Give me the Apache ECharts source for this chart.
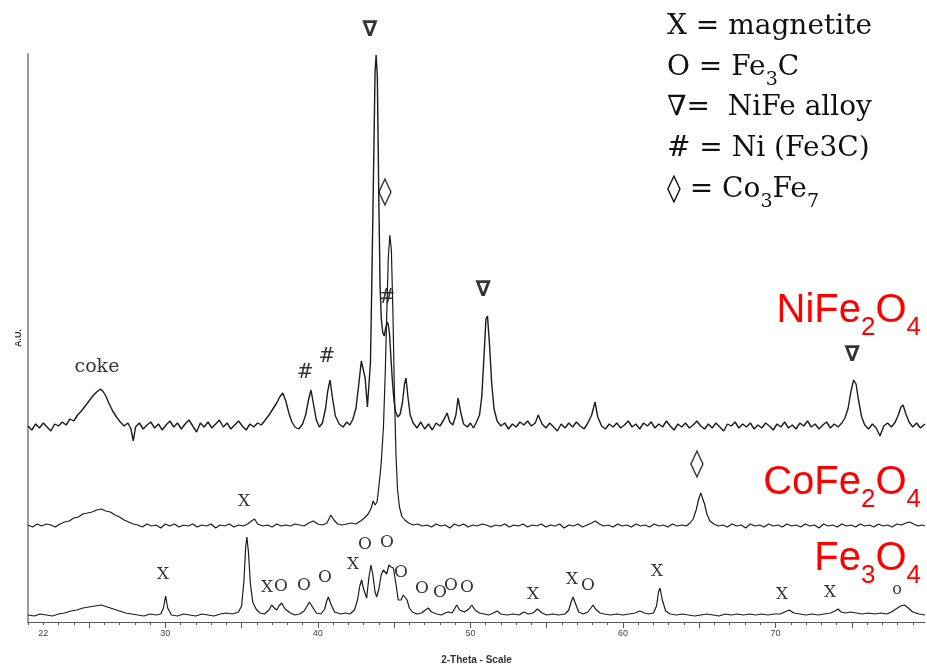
<!DOCTYPE html>
<html><head><meta charset="utf-8">
<script src="https://cdn.jsdelivr.net/npm/echarts@6/dist/echarts.min.js"></script>
<style>html,body{margin:0;padding:0;background:#fff}#c{width:927px;height:668px}</style>
</head><body><div id="c"></div>
<script>
// 2-theta (deg) and relative intensity (A.U., traces stacked with offsets as in the figure)
const niFe2O4 = [
[21.0,196],[21.25,192],[21.5,198],[21.75,194],[22.0,199],[22.25,195],[22.5,191],[22.75,198],[23.0,196],[23.25,200],[23.5,197],[23.75,203],[24.0,201],[24.25,207],[24.5,211],[24.75,216],[25.0,221],[25.25,226],[25.5,230],[25.75,233],[25.9,231],[26.1,226],[26.3,219],[26.55,211],[26.8,205],[27.05,200],[27.3,196],[27.55,199],[27.75,193],[27.9,181],[28.05,195],[28.3,199],[28.55,193],[28.8,197],[29.05,200],[29.3,194],[29.55,198],[29.8,192],[30.05,197],[30.3,201],[30.55,195],[30.8,199],[31.05,193],[31.3,198],[31.55,202],[31.8,196],[32.05,190],[32.3,199],[32.55,195],[32.8,200],[33.05,194],[33.3,198],[33.55,202],[33.8,195],[34.05,199],[34.3,193],[34.55,197],[34.8,201],[35.05,196],[35.3,192],[35.55,198],[35.8,195],[36.05,199],[36.3,197],[36.55,202],[36.8,207],[37.05,213],[37.3,219],[37.5,225],[37.7,229],[37.9,221],[38.1,209],[38.3,200],[38.5,195],[38.75,193],[39.0,198],[39.2,207],[39.4,223],[39.55,232],[39.7,219],[39.9,202],[40.1,195],[40.3,199],[40.5,213],[40.65,231],[40.8,242],[40.95,225],[41.15,206],[41.4,198],[41.65,195],[41.9,200],[42.1,197],[42.3,203],[42.5,214],[42.7,240],[42.85,261],[42.95,263],[43.1,244],[43.25,215],[43.35,213],[43.45,260],[43.55,350],[43.65,450],[43.75,550],[43.82,567],[43.9,545],[44.0,420],[44.08,335],[44.16,303],[44.25,290],[44.35,286],[44.45,294],[44.55,300],[44.62,297],[44.7,288],[44.8,262],[44.9,238],[45.0,220],[45.1,210],[45.25,205],[45.4,208],[45.55,220],[45.68,238],[45.78,244],[45.9,226],[46.05,207],[46.25,199],[46.5,194],[46.75,200],[47.0,193],[47.25,198],[47.5,192],[47.75,199],[48.0,196],[48.25,202],[48.47,209],[48.65,200],[48.85,197],[49.05,207],[49.19,224],[49.35,211],[49.55,198],[49.8,195],[50.0,199],[50.2,194],[50.4,200],[50.6,207],[50.75,226],[50.9,268],[51.02,303],[51.12,306],[51.25,278],[51.4,238],[51.55,213],[51.75,201],[52.0,196],[52.25,199],[52.5,193],[52.75,198],[53.0,195],[53.25,200],[53.5,197],[53.75,201],[54.0,196],[54.25,199],[54.45,207],[54.7,198],[54.95,194],[55.2,199],[55.45,195],[55.7,191],[55.95,198],[56.2,194],[56.45,199],[56.7,195],[56.95,200],[57.2,196],[57.45,193],[57.7,199],[57.95,207],[58.17,220],[58.35,205],[58.6,196],[58.85,193],[59.1,198],[59.35,195],[59.6,199],[59.85,194],[60.1,197],[60.35,201],[60.6,195],[60.85,198],[61.1,193],[61.35,199],[61.6,196],[61.85,200],[62.1,194],[62.35,198],[62.6,195],[62.85,201],[63.1,196],[63.35,192],[63.6,198],[63.85,195],[64.1,199],[64.35,194],[64.6,197],[64.85,201],[65.1,196],[65.35,193],[65.6,198],[65.85,194],[66.1,199],[66.35,195],[66.6,191],[66.85,198],[67.1,196],[67.35,200],[67.6,194],[67.85,198],[68.1,195],[68.35,199],[68.6,193],[68.85,197],[69.1,194],[69.35,199],[69.6,196],[69.85,192],[70.1,198],[70.35,195],[70.6,200],[70.85,194],[71.1,197],[71.35,193],[71.6,199],[71.85,196],[72.1,201],[72.35,195],[72.6,198],[72.85,193],[73.1,197],[73.35,200],[73.6,194],[73.85,198],[74.1,195],[74.35,199],[74.55,204],[74.75,213],[74.95,231],[75.12,242],[75.28,238],[75.45,221],[75.65,205],[75.85,197],[76.1,193],[76.35,198],[76.6,194],[76.85,186],[77.1,196],[77.35,199],[77.6,195],[77.85,200],[78.05,207],[78.22,215],[78.36,217],[78.55,208],[78.75,200],[79.0,195],[79.25,199],[79.5,194],[79.8,198]
];
const coFe2O4 = [
[21.0,97],[21.3,95],[21.6,98],[21.9,96],[22.2,98],[22.5,97],[22.8,95],[23.1,98],[23.4,100],[23.7,101],[24.0,104],[24.3,105],[24.6,108],[24.9,109],[25.2,110],[25.5,112],[25.8,113],[26.1,111],[26.4,110],[26.7,107],[27.0,105],[27.3,102],[27.6,100],[27.9,98],[28.2,97],[28.5,95],[28.8,98],[29.1,96],[29.4,97],[29.7,94],[30.0,98],[30.3,96],[30.6,98],[30.9,95],[31.2,97],[31.5,96],[31.8,98],[32.1,95],[32.4,97],[32.7,96],[33.0,98],[33.3,94],[33.6,97],[33.9,96],[34.2,98],[34.5,95],[34.8,97],[35.1,96],[35.4,98],[35.65,101],[35.85,103],[36.05,98],[36.4,96],[36.7,97],[37.0,95],[37.3,98],[37.6,96],[37.9,97],[38.2,96],[38.5,98],[38.8,97],[39.1,96],[39.4,99],[39.7,101],[40.0,98],[40.3,97],[40.6,99],[40.85,107],[41.05,102],[41.3,98],[41.6,97],[41.9,98],[42.2,99],[42.5,98],[42.8,101],[43.05,104],[43.3,108],[43.5,114],[43.62,121],[43.75,117],[43.88,120],[44.0,135],[44.15,158],[44.3,195],[44.42,250],[44.52,310],[44.62,365],[44.72,387],[44.82,372],[44.92,310],[45.02,230],[45.12,168],[45.22,133],[45.35,115],[45.5,106],[45.7,102],[45.95,99],[46.25,97],[46.55,98],[46.85,96],[47.15,97],[47.45,95],[47.75,98],[48.05,96],[48.35,97],[48.65,94],[48.95,98],[49.25,96],[49.55,98],[49.85,95],[50.15,97],[50.45,96],[50.75,98],[51.05,97],[51.35,95],[51.65,97],[51.95,96],[52.25,98],[52.55,95],[52.85,97],[53.15,96],[53.45,98],[53.75,95],[54.05,97],[54.35,96],[54.65,98],[54.95,95],[55.25,97],[55.55,96],[55.85,98],[56.15,94],[56.45,97],[56.75,96],[57.05,98],[57.35,95],[57.65,97],[57.95,99],[58.2,101],[58.45,98],[58.75,96],[59.05,97],[59.35,95],[59.65,98],[59.95,96],[60.25,97],[60.55,95],[60.85,98],[61.15,96],[61.45,97],[61.75,95],[62.05,98],[62.35,96],[62.65,97],[62.95,95],[63.25,98],[63.55,96],[63.85,97],[64.15,96],[64.4,99],[64.6,103],[64.8,112],[64.95,122],[65.1,129],[65.22,127],[65.35,118],[65.5,108],[65.7,101],[65.95,98],[66.25,96],[66.55,97],[66.85,95],[67.15,98],[67.45,96],[67.75,97],[68.05,94],[68.35,98],[68.65,96],[68.95,97],[69.25,95],[69.55,98],[69.85,96],[70.15,97],[70.45,95],[70.75,98],[71.05,96],[71.35,97],[71.65,95],[71.95,98],[72.25,96],[72.55,97],[72.85,94],[73.15,98],[73.45,96],[73.75,97],[74.05,95],[74.35,98],[74.65,96],[74.95,97],[75.25,95],[75.55,98],[75.85,96],[76.15,97],[76.45,95],[76.75,98],[77.05,96],[77.35,97],[77.65,95],[77.95,98],[78.25,97],[78.55,99],[78.8,100],[79.05,98],[79.35,96],[79.6,97],[79.8,96]
];
const fe3O4 = [
[21.0,7],[21.4,6],[21.8,8],[22.2,7],[22.6,6],[23.0,8],[23.4,9],[23.8,11],[24.2,12],[24.6,14],[25.0,15],[25.4,16],[25.8,17],[26.2,15],[26.6,13],[27.0,11],[27.4,9],[27.8,8],[28.2,7],[28.6,6],[29.0,8],[29.4,7],[29.7,8],[29.88,14],[30.02,26],[30.16,14],[30.4,7],[30.8,6],[31.2,8],[31.6,7],[32.0,6],[32.4,8],[32.8,7],[33.2,6],[33.6,8],[34.0,9],[34.4,8],[34.8,10],[35.0,16],[35.15,40],[35.27,75],[35.35,85],[35.45,70],[35.58,38],[35.73,20],[35.95,13],[36.2,9],[36.5,8],[36.8,12],[36.97,17],[37.15,14],[37.3,12],[37.45,16],[37.63,19],[37.85,13],[38.2,9],[38.5,7],[38.8,8],[39.1,11],[39.3,16],[39.44,20],[39.65,15],[39.9,9],[40.2,8],[40.45,13],[40.58,21],[40.69,25],[40.85,18],[41.1,10],[41.5,8],[41.8,9],[42.1,8],[42.4,12],[42.6,22],[42.75,36],[42.87,42],[43.0,33],[43.2,24],[43.35,45],[43.48,57],[43.6,48],[43.75,30],[43.86,25],[44.0,33],[44.15,47],[44.29,52],[44.4,50],[44.51,48],[44.66,57],[44.8,55],[44.95,54],[45.1,40],[45.27,22],[45.45,22],[45.6,27],[45.71,29],[45.85,22],[46.0,14],[46.2,10],[46.5,8],[46.8,9],[47.05,12],[47.24,14],[47.45,10],[47.8,8],[48.1,7],[48.35,9],[48.55,10],[48.8,9],[48.95,13],[49.1,17],[49.3,12],[49.6,10],[49.9,13],[50.09,17],[50.3,12],[50.6,9],[50.9,8],[51.2,7],[51.5,9],[51.75,11],[52.0,8],[52.4,7],[52.8,8],[53.2,7],[53.5,10],[53.8,8],[54.1,9],[54.4,13],[54.7,9],[55.0,7],[55.4,8],[55.8,7],[56.2,8],[56.45,12],[56.6,20],[56.73,25],[56.9,18],[57.1,10],[57.4,8],[57.7,10],[57.9,14],[58.04,17],[58.2,13],[58.5,9],[58.8,8],[59.2,7],[59.6,8],[60.0,7],[60.4,8],[60.8,9],[61.1,11],[61.4,9],[61.7,8],[62.0,9],[62.2,16],[62.33,30],[62.43,34],[62.58,22],[62.8,11],[63.1,8],[63.5,7],[63.9,8],[64.3,7],[64.7,6],[65.1,7],[65.5,8],[65.9,7],[66.3,6],[66.7,8],[67.1,7],[67.5,8],[67.9,7],[68.3,8],[68.7,7],[69.1,8],[69.5,7],[69.9,8],[70.3,8],[70.6,10],[70.9,12],[71.2,9],[71.6,8],[72.0,7],[72.4,8],[72.8,7],[73.2,8],[73.6,9],[73.9,11],[74.1,13],[74.3,10],[74.6,9],[74.9,10],[75.3,9],[75.7,8],[76.1,9],[76.5,8],[76.9,9],[77.3,8],[77.6,10],[77.9,13],[78.2,16],[78.45,17],[78.7,14],[79.0,10],[79.4,8],[79.8,7]
];

// peak annotations: [2-theta, height, text]
const markersFe3O4 = [[29.85,47,'X'],[36.67,34,'X'],[37.59,35,'O'],[39.09,36,'O'],[40.47,44,'O'],[42.3,57,'X'],[43.09,77,'O'],[44.53,79,'O'],[45.45,49,'O'],[46.83,33,'O'],[48.01,29,'O'],[48.73,36,'O'],[49.78,34,'O'],[54.1,27,'X'],[56.66,42,'X'],[57.71,36,'O'],[62.23,50,'X'],[70.43,27,'X'],[73.57,29,'X'],[77.97,32,'o']];
const markersCoFe2O4 = [[35.16,120,'X'],[44.4,429,'◊'],[64.85,157,'◊']];
const markersNiFe2O4 = [[25.52,255,'coke'],[39.16,249,'#'],[40.6,265,'#'],[43.42,592,'∇'],[44.53,324,'#'],[50.83,332,'∇'],[75.02,267,'∇']];

// axis ticks
const xLabelValues = [22,30,40,50,60,70];
const xMajorTicks = [25,30,35,40,45,50,55,60,65,70,75];
const xMinorTicks = [21,22,23,24,25,26,27,28,29,30,31,32,33,34,35,36,37,38,39,40,41,42,43,44,45,46,47,48,49,50,51,52,53,54,55,56,57,58,59,60,61,62,63,64,65,66,67,68,69,70,71,72,73,74,75,76,77,78,79];

// texts
const legendLines = ['X = magnetite','O = Fe{s|3}C','∇=  NiFe alloy','# = Ni (Fe3C)','◊ = Co{s|3}Fe{s|7}'];
const sampleNames = ['NiFe{s|2}O{s|4}','CoFe{s|2}O{s|4}','Fe{s|3}O{s|4}'];

const markStyle = {
  'X': {fontFamily:'DejaVu Serif', fontSize:17},
  'O': {fontFamily:'DejaVu Serif', fontSize:17},
  'o': {fontFamily:'DejaVu Serif', fontSize:16},
  '#': {fontFamily:'DejaVu Serif', fontSize:20},
  '∇': {fontFamily:'DejaVu Sans', fontSize:22, fontWeight:'bold'},
  '◊': {fontFamily:'DejaVu Sans', fontSize:28},
  'coke': {fontFamily:'DejaVu Serif', fontSize:19}
};
function markerSeries(arr){
  return {
    type:'scatter', clip:false, symbolSize:1, silent:true,
    itemStyle:{color:'rgba(0,0,0,0)'},
    data: arr.map(m => ({
      value:[m[0], m[1]],
      label:Object.assign({show:true, position:'inside', formatter:m[2], color:'#000'}, markStyle[m[2]])
    }))
  };
}
function trace(d, w){
  return {type:'line', data:d, symbol:'none', showSymbol:false, silent:true,
    lineStyle:{color:'#1c1c1c', width:w}};
}

const legendTops = [10, 51, 91, 132, 173];
const sampleTops = [291, 463, 539];

const graphic = [];
legendLines.forEach((t,i) => graphic.push({
  type:'text', x:667, y:legendTops[i], silent:true,
  style:{text:t, fontFamily:'DejaVu Serif', fontSize:28, lineHeight:34, fill:'#111',
    align:'left', verticalAlign:'top', textAlign:'left', textVerticalAlign:'top',
    rich:{s:{fontFamily:'DejaVu Serif', fontSize:19, lineHeight:19, padding:[24,0,0,0], fill:'#111'}}}
}));
sampleNames.forEach((t,i) => graphic.push({
  type:'text', x:921, y:sampleTops[i], silent:true,
  style:{text:t, fontFamily:'Liberation Sans', fontSize:40, lineHeight:40, fill:'#ff0000',
    align:'right', verticalAlign:'top', textAlign:'right', textVerticalAlign:'top',
    rich:{s:{fontFamily:'Liberation Sans', fontSize:26, lineHeight:26, padding:[34,0,0,0], fill:'#ff0000'}}}
}));

const chart = echarts.init(document.getElementById('c'), null, {renderer:'canvas'});
chart.setOption({
  animation:false,
  backgroundColor:'#fff',
  grid:{left:28, right:2, top:54, bottom:46, containLabel:false, outerBoundsMode:'none'},
  xAxis:[{
    type:'value', min:21, max:79.8, position:'bottom',
    name:'2-Theta - Scale', nameLocation:'middle', nameGap:33,
    nameTextStyle:{fontFamily:'Liberation Sans', fontSize:10, fontWeight:'bold', color:'#333'},
    axisLine:{show:true, onZero:false, lineStyle:{color:'#555', width:1}},
    axisTick:{show:true, inside:false, length:6, customValues:xMajorTicks, lineStyle:{color:'#555'}},
    axisLabel:{show:true, customValues:xLabelValues, margin:7, fontFamily:'Liberation Sans', fontSize:9, color:'#444'},
    splitLine:{show:false}
  },{
    type:'value', min:21, max:79.8, position:'bottom', gridIndex:0,
    axisLine:{show:false, onZero:false},
    axisTick:{show:true, length:3, customValues:xMinorTicks, lineStyle:{color:'#555'}},
    axisLabel:{show:false}, splitLine:{show:false}
  }],
  yAxis:{
    type:'value', min:0, max:568,
    name:'A.U.', nameLocation:'middle', nameGap:5, nameRotate:90,
    nameTextStyle:{fontFamily:'Liberation Sans', fontSize:9, fontWeight:'bold', color:'#333'},
    axisLine:{show:true, lineStyle:{color:'#9a9a9a', width:2}},
    axisTick:{show:false}, axisLabel:{show:false}, splitLine:{show:false}
  },
  series:[trace(fe3O4, 1.2), trace(coFe2O4, 1.2), trace(niFe2O4, 1.4),
    markerSeries(markersFe3O4), markerSeries(markersCoFe2O4), markerSeries(markersNiFe2O4)],
  graphic:graphic
});
</script></body></html>
